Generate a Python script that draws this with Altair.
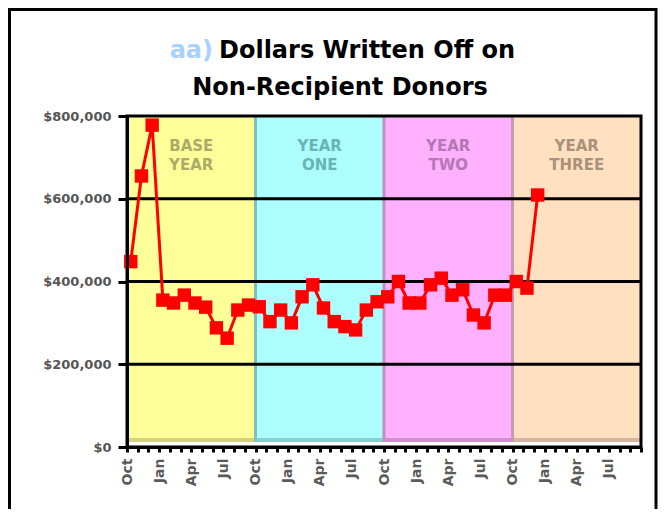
import altair as alt
import pandas as pd

# ---- data ----
values = [448000, 655000, 778000, 355000, 348000, 367000, 348000, 338000, 288000, 263000,
          331000, 343000, 339000, 303000, 331000, 300000, 363000, 392000, 336000, 303000,
          291000, 283000, 331000, 351000, 363000, 400000, 348000, 348000, 392000, 408000,
          367000, 380000, 319000, 300000, 367000, 367000, 400000, 384000, 609000]
months = list(range(len(values)))          # month index, 0 = Oct of base year
quarter_labels = ["Oct", "Jan", "Apr", "Jul"]
band_line1 = ["BASE", "YEAR", "YEAR", "YEAR"]
band_line2 = ["YEAR", "ONE", "TWO", "THREE"]
band_start = [0, 12, 24, 36]
band_end = [12, 24, 36, 48]
band_fill = ["#FFFF99", "#ADFFFF", "#FFB0FF", "#FFE0C0"]
band_floor = ["#D6D080", "#88CFCF", "#D090D0", "#D8B4A0"]
band_edge = ["#FFFF99", "#7FBFBF", "#C090C0", "#C49AB4"]
band_text = ["#ABAB68", "#68B4B4", "#B478B4", "#A8927C"]
y_ticks = [0, 200000, 400000, 600000, 800000]
grid_vals = [200000, 400000, 600000]

W, H = 514, 331

df = pd.DataFrame({"m": months, "v": values})
bands = pd.DataFrame({"s": band_start, "e": band_end, "fill": band_fill, "floor": band_floor,
                      "edge": band_edge, "tc": band_text, "l1": band_line1, "l2": band_line2})
bands["c"] = (bands["s"] + bands["e"]) / 2
grid = pd.DataFrame({"g": grid_vals})
one = pd.DataFrame({"a": [0]})

# nested ternary: quarter label every 3 months, empty otherwise
label_expr = "''"
for i in reversed(range(len(quarter_labels))):
    label_expr = f"(datum.value % 12 == {3 * i} && datum.value < 48) ? '{quarter_labels[i]}' : ({label_expr})"

xscale = alt.Scale(domain=[0, 48], nice=False, zero=False)
yscale = alt.Scale(domain=[0, 800000], nice=False)

x_axis = alt.Axis(values=list(range(49)), labelExpr=label_expr, labelAngle=-90, title=None,
                  grid=False, tickSize=5, tickWidth=3, tickColor="black", domainColor="black",
                  domainWidth=3, labelFont="DejaVu Sans", labelFontWeight="bold",
                  labelFontSize=14, labelColor="#5a5a5a", labelPadding=6, zindex=1,
                  labelOverlap=False, labelBound=False, labelFlush=False)
y_axis = alt.Axis(values=y_ticks, format="$,.0f", title=None, grid=False, tickSize=9,
                  tickWidth=3, tickColor="black", domainColor="black", domainWidth=3,
                  labelFont="DejaVu Sans", labelFontWeight="bold", labelFontSize=13,
                  labelColor="#555555", labelPadding=7, zindex=1, labelOverlap=False,
                  labelFlush=False)

band_rect = alt.Chart(bands).mark_rect().encode(
    x=alt.X("s:Q", scale=xscale, axis=x_axis), x2="e:Q",
    y=alt.value(0), y2=alt.value(H - 5),
    color=alt.Color("fill:N", scale=None))

floor_rect = alt.Chart(bands).mark_rect().encode(
    x=alt.X("s:Q", scale=xscale, axis=x_axis), x2="e:Q",
    y=alt.value(H - 9), y2=alt.value(H - 5),
    color=alt.Color("floor:N", scale=None))

edges = alt.Chart(bands).mark_rule(strokeWidth=3).encode(
    x=alt.X("s:Q", scale=xscale, axis=x_axis), y=alt.value(0), y2=alt.value(H - 5),
    color=alt.Color("edge:N", scale=None)).transform_filter("datum.s > 0")

txt1 = alt.Chart(bands).mark_text(font="DejaVu Sans", fontWeight="bold", fontSize=15,
                                  baseline="middle", align="center").encode(
    x=alt.X("c:Q", scale=xscale, axis=x_axis), y=alt.value(30), text="l1:N",
    color=alt.Color("tc:N", scale=None))
txt2 = alt.Chart(bands).mark_text(font="DejaVu Sans", fontWeight="bold", fontSize=15,
                                  baseline="middle", align="center").encode(
    x=alt.X("c:Q", scale=xscale, axis=x_axis), y=alt.value(49), text="l2:N",
    color=alt.Color("tc:N", scale=None))

grid_rules = alt.Chart(grid).mark_rule(color="black", strokeWidth=3).encode(
    y=alt.Y("g:Q", scale=yscale, axis=y_axis), x=alt.value(0), x2=alt.value(W))

frame = alt.Chart(one).mark_rect(filled=False, stroke="black", strokeWidth=3).encode(
    x=alt.value(0), x2=alt.value(W), y=alt.value(0), y2=alt.value(H))

base = alt.Chart(df).transform_calculate(mx="datum.m + 0.35")
line = base.mark_line(color="#FF0000", strokeWidth=3).encode(
    x=alt.X("mx:Q", scale=xscale, axis=x_axis), y=alt.Y("v:Q", scale=yscale, axis=y_axis))
pts = base.mark_point(shape="square", filled=True, color="#FF0000", size=180, opacity=1).encode(
    x=alt.X("mx:Q", scale=xscale, axis=x_axis), y=alt.Y("v:Q", scale=yscale, axis=y_axis))

title_a = alt.Chart(one).mark_text(text="aa)", font="DejaVu Sans", fontWeight="bold",
                                   fontSize=24, color="#A6D2FF", align="right",
                                   baseline="middle").encode(x=alt.value(86), y=alt.value(-65))
title_b = alt.Chart(one).mark_text(text="Dollars Written Off on", font="DejaVu Sans",
                                   fontWeight="bold", fontSize=24, color="black",
                                   align="left", baseline="middle").encode(
    x=alt.value(92), y=alt.value(-65))
title_c = alt.Chart(one).mark_text(text="Non-Recipient Donors", font="DejaVu Sans",
                                   fontWeight="bold", fontSize=24, color="black",
                                   align="center", baseline="middle").encode(
    x=alt.value(213), y=alt.value(-28))

border = alt.Chart(one).mark_rect(filled=False, stroke="black", strokeWidth=3).encode(
    x=alt.value(-117.5), x2=alt.value(529), y=alt.value(-106.5), y2=alt.value(430))

chart = alt.layer(band_rect, floor_rect, edges, txt1, txt2, grid_rules, frame, line, pts,
                  title_a, title_b, title_c, border).properties(
    width=W, height=H,
    autosize=alt.AutoSizeParams(type="none"),
    padding={"left": 119, "top": 108, "right": 17, "bottom": 62},
    background="white",
).configure_view(stroke=None).configure_axis(labelOverlap=False)

chart.save("out.html", embed_options={"renderer": "svg", "actions": False})
